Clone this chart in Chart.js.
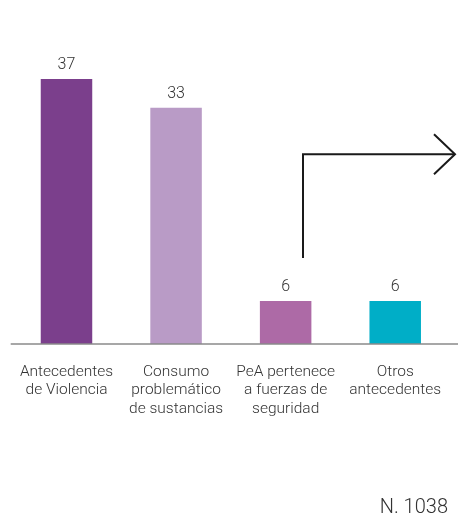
<!DOCTYPE html>
<html>
<head>
<meta charset="utf-8">
<script src="https://cdn.jsdelivr.net/npm/chart.js@4"></script>
<style>
    body { margin: 0; background: #fff; }
    #wrap { position: relative; width: 471px; height: 520px; }
    #note {
        position: absolute; right: 23px; top: 494px;
        font-family: Roboto, sans-serif; font-weight: 300;
        font-size: 20px; color: #333;
    }
</style>
</head>
<body>
<div id="wrap">
    <canvas id="chart" width="471" height="520"></canvas>
    <div id="note">N. 1038</div>
</div>
<script>
// Data
const categories = [
    ['Antecedentes', 'de Violencia'],
    ['Consumo', 'problemático', 'de sustancias'],
    ['PeA pertenece', 'a fuerzas de', 'seguridad'],
    ['Otros', 'antecedentes']
];
const values = [37, 33, 6, 6];
const barColors = ['#7b3f8c', '#b99bc6', '#ad6aa6', '#00aec7'];

const textColor = '#333333';
const fontFamily = 'Roboto, sans-serif';

// value labels above bars
const valueLabels = {
    id: 'valueLabels',
    afterDatasetsDraw(chart) {
        const ctx = chart.ctx;
        const meta = chart.getDatasetMeta(0);
        ctx.save();
        ctx.font = '300 16px ' + fontFamily;
        ctx.fillStyle = textColor;
        ctx.textAlign = 'center';
        ctx.textBaseline = 'bottom';
        meta.data.forEach((bar, i) => {
            ctx.fillText(values[i], bar.x, bar.y - 6);
        });
        ctx.restore();
    }
};

// baseline + arrow decoration
const decorations = {
    id: 'decorations',
    afterDraw(chart) {
        const ctx = chart.ctx;
        const area = chart.chartArea;
        const y = chart.scales.y;

        ctx.save();
        ctx.strokeStyle = '#8a8a8a';
        ctx.lineWidth = 1.5;
        ctx.beginPath();
        ctx.moveTo(area.left - 1, area.bottom);
        ctx.lineTo(area.right + 8, area.bottom);
        ctx.stroke();

        // arrow
        const x0 = 303;
        const yBottom = y.getPixelForValue(12);
        const yTop = y.getPixelForValue(26.5);
        const xEnd = 455;
        ctx.strokeStyle = '#1a1a1a';
        ctx.lineWidth = 2;
        ctx.beginPath();
        ctx.moveTo(x0, yBottom);
        ctx.lineTo(x0, yTop);
        ctx.lineTo(xEnd, yTop);
        ctx.stroke();
        ctx.beginPath();
        ctx.moveTo(xEnd - 21, yTop - 20);
        ctx.lineTo(xEnd, yTop);
        ctx.lineTo(xEnd - 21, yTop + 20);
        ctx.stroke();
        ctx.restore();
    }
};

new Chart(document.getElementById('chart'), {
    type: 'bar',
    data: {
        labels: categories,
        datasets: [{
            data: values,
            backgroundColor: barColors,
            barPercentage: 0.47,
            categoryPercentage: 1
        }]
    },
    options: {
        responsive: false,
        animation: false,
        layout: {
            padding: { top: 57.5, left: 7, right: 21, bottom: 0 }
        },
        plugins: {
            legend: { display: false },
            tooltip: { enabled: false }
        },
        scales: {
            x: {
                grid: { display: false, drawTicks: false },
                border: { display: false },
                ticks: {
                    color: textColor,
                    padding: 19,
                    maxRotation: 0,
                    autoSkip: false,
                    font: { family: fontFamily, size: 15.5, weight: 300, lineHeight: 1.18 }
                },
                afterFit(scale) { scale.height = 176; }
            },
            y: {
                display: false,
                min: 0,
                max: 40
            }
        }
    },
    plugins: [valueLabels, decorations]
});
</script>
</body>
</html>
